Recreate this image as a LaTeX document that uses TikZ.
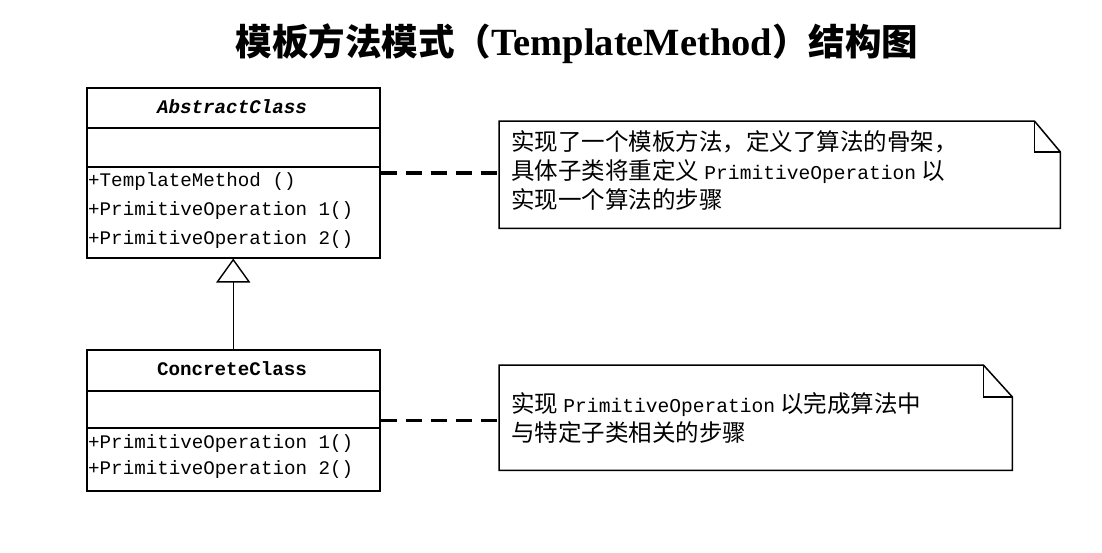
\documentclass[tikz,border=0pt]{standalone}
\usepackage{fontspec}
\setmainfont{Liberation Serif}
\newfontfamily\cjk{Noto Sans CJK SC}
\newfontfamily\monof{Liberation Mono}
\usetikzlibrary{arrows.meta}
\newcommand\latw[1]{{\monof\fontsize{19.6}{29}\selectfont #1}}
\begin{document}
\begin{tikzpicture}[x=1pt,y=-1pt,
  classbox/.style={draw, line width=1.5pt, minimum width=293pt, inner sep=0pt, anchor=north west},
  divider/.style={line width=1.3pt},
  member/.style={anchor=west, inner sep=0pt, font=\monof\fontsize{19.2}{22}\selectfont},
  cname/.style={inner sep=0pt, font=\monof\bfseries\fontsize{19.2}{22}\selectfont},
  notebox/.style={anchor=north west, inner sep=0pt},
  noteline/.style={line width=1.5pt, line join=miter},
  notetext/.style={anchor=west, align=left, inner sep=0pt, font=\cjk\fontsize{23.5}{29}\selectfont},
  dashlink/.style={line width=3.5pt, dash pattern=on 16pt off 9pt},
  inherit/.style={line width=1.2pt, -{Triangle[open, length=24pt, width=34pt, line width=1.4pt]}}
]
\useasboundingbox[fill=white] (0,0) rectangle (1102,552);
% title
\node[inner sep=0pt] (title) at (577,44)
  {{\cjk\bfseries\fontsize{36.5}{42}\selectfont 模板方法模式（}{\bfseries\fontsize{38.5}{42}\selectfont TemplateMethod}{\cjk\bfseries\fontsize{36.5}{42}\selectfont ）结构图}};
% abstract class
\node[classbox, minimum height=170pt] (abs) at (86,87) {};
\node[cname, font=\monof\bfseries\itshape\fontsize{19.2}{22}\selectfont] (absname) at (232,107) {AbstractClass};
\draw[divider] (86,128) -- (379,128);
\draw[divider] (86,167) -- (379,167);
\node[member] (am1) at (88,182) {+TemplateMethod ()};
\node[member] (am2) at (88,211) {+PrimitiveOperation 1()};
\node[member] (am3) at (88,240) {+PrimitiveOperation 2()};
% concrete class
\node[classbox, minimum height=141pt] (conc) at (86,349) {};
\node[cname] (concname) at (232,369) {ConcreteClass};
\draw[divider] (86,391) -- (379,391);
\draw[divider] (86,428) -- (379,428);
\node[member] (cm1) at (88,444) {+PrimitiveOperation 1()};
\node[member] (cm2) at (88,470) {+PrimitiveOperation 2()};
% inheritance
\draw[inherit] (conc.north) -- (abs.south);
% note 1
\node[notebox, minimum width=561pt, minimum height=107pt] (n1) at (499,121) {};
\draw[noteline] (n1.north west) -- ([xshift=-26pt]n1.north east) -- ([yshift=-31pt]n1.north east) -- (n1.south east) -- (n1.south west) -- cycle;
\draw[noteline] ([xshift=-26pt]n1.north east) -- ([xshift=-26pt,yshift=-31pt]n1.north east) -- ([yshift=-31pt]n1.north east);
\node[notetext] (t1) at (511,171) {实现了一个模板方法，定义了算法的骨架，\\具体子类将重定义 \latw{PrimitiveOperation} 以\\实现一个算法的步骤};
% note 2
\node[notebox, minimum width=513pt, minimum height=105pt] (n2) at (499,365) {};
\draw[noteline] (n2.north west) -- ([xshift=-29pt]n2.north east) -- ([yshift=-32pt]n2.north east) -- (n2.south east) -- (n2.south west) -- cycle;
\draw[noteline] ([xshift=-29pt]n2.north east) -- ([xshift=-29pt,yshift=-32pt]n2.north east) -- ([yshift=-32pt]n2.north east);
\node[notetext] (t2) at (511,418) {实现 \latw{PrimitiveOperation} 以完成算法中\\与特定子类相关的步骤};
% dashed links
\draw[dashlink] (abs.east) -- (abs.east -| n1.west);
\draw[dashlink] (conc.east) -- (conc.east -| n2.west);
\end{tikzpicture}
\end{document}
